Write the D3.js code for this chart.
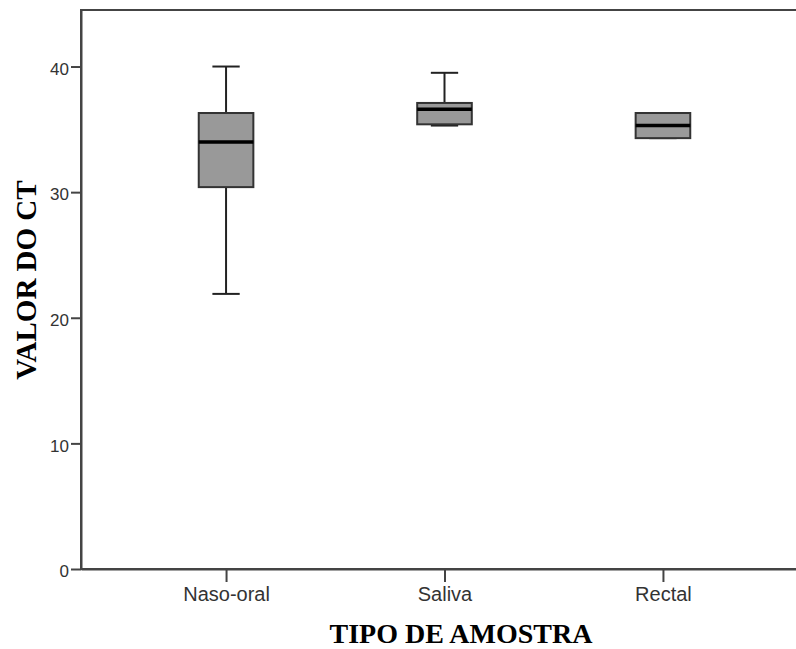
<!DOCTYPE html>
<html>
<head>
<meta charset="utf-8">
<script src="https://cdn.jsdelivr.net/npm/d3@7"></script>
<style>
    body { margin: 0; background: #fff; }
    .x-axis .tick text { font-family: "Liberation Sans", Arial, sans-serif; font-size: 20px; fill: #333; }
    .y-axis .tick text { font-family: "Liberation Sans", Arial, sans-serif; font-size: 17px; fill: #333; }
    .axis-title { font-family: "Liberation Serif", "Times New Roman", serif; font-weight: bold; fill: #000; }
</style>
</head>
<body>
<div id="chart"></div>
<script>
// Box plot values.
let categories = ["Naso-oral", "Saliva", "Rectal"];
let whiskerLow = [21.9, 35.3, 34.3];
let q1 = [30.4, 35.4, 34.3];
let median = [34.0, 36.6, 35.3];
let q3 = [36.3, 37.1, 36.3];
let whiskerHigh = [40.0, 39.5, 36.3];
let yTicks = [0, 10, 20, 30, 40];

let width = 796;
let height = 649;

// Plot area (it runs past the right edge of the picture, as in the original).
let plotLeft = 81, plotRight = 808, plotTop = 10, plotBottom = 569;

let svg = d3.select("#chart")
    .append("svg")
    .attr("width", width)
    .attr("height", height);

let x = d3.scalePoint()
    .domain(categories)
    .range([plotLeft, plotRight])
    .padding(0.664);

let y = d3.scaleLinear()
    .domain([0, 44.5])
    .range([plotBottom, plotTop]);

let boxes = categories.map((c, i) => ({
    name: c, lo: whiskerLow[i], q1: q1[i], med: median[i], q3: q3[i], hi: whiskerHigh[i]
}));

let boxW = x.step() * 0.25;
let capW = boxW * 0.5;

// Frame
svg.append("rect")
    .attr("x", plotLeft)
    .attr("y", plotTop)
    .attr("width", plotRight - plotLeft)
    .attr("height", plotBottom - plotTop)
    .attr("fill", "none")
    .attr("stroke", "#444")
    .attr("stroke-width", 2);

// Y axis
let yAxis = svg.append("g")
    .attr("class", "y-axis")
    .attr("transform", `translate(${plotLeft},0)`)
    .call(d3.axisLeft(y).tickValues(yTicks).tickSize(10).tickPadding(2).tickSizeOuter(0));
yAxis.select(".domain").attr("stroke", "#444").attr("stroke-width", 2);
yAxis.selectAll(".tick line").attr("stroke", "#444").attr("stroke-width", 2);
yAxis.selectAll(".tick text").attr("dy", "0.45em");

// X axis
let xAxis = svg.append("g")
    .attr("class", "x-axis")
    .attr("transform", `translate(0,${plotBottom})`)
    .call(d3.axisBottom(x).tickSize(13).tickPadding(5).tickSizeOuter(0));
xAxis.select(".domain").attr("stroke", "#444").attr("stroke-width", 2);
xAxis.selectAll(".tick line").attr("stroke", "#444").attr("stroke-width", 2);

let g = svg.selectAll(".box")
    .data(boxes)
    .enter()
    .append("g")
    .attr("class", "box");

// Whiskers
g.append("line")
    .attr("x1", d => x(d.name)).attr("x2", d => x(d.name))
    .attr("y1", d => y(d.hi)).attr("y2", d => y(d.q3))
    .attr("stroke", "#222").attr("stroke-width", 2);
g.append("line")
    .attr("x1", d => x(d.name)).attr("x2", d => x(d.name))
    .attr("y1", d => y(d.lo)).attr("y2", d => y(d.q1))
    .attr("stroke", "#222").attr("stroke-width", 2);

// Caps
g.append("line")
    .attr("x1", d => x(d.name) - capW / 2).attr("x2", d => x(d.name) + capW / 2)
    .attr("y1", d => y(d.hi)).attr("y2", d => y(d.hi))
    .attr("stroke", "#222").attr("stroke-width", 2);
g.append("line")
    .attr("x1", d => x(d.name) - capW / 2).attr("x2", d => x(d.name) + capW / 2)
    .attr("y1", d => y(d.lo)).attr("y2", d => y(d.lo))
    .attr("stroke", "#222").attr("stroke-width", 2);

// Boxes
g.append("rect")
    .attr("x", d => x(d.name) - boxW / 2)
    .attr("y", d => y(d.q3))
    .attr("width", boxW)
    .attr("height", d => y(d.q1) - y(d.q3))
    .attr("fill", "#999999")
    .attr("stroke", "#333")
    .attr("stroke-width", 2);

// Medians
g.append("line")
    .attr("x1", d => x(d.name) - boxW / 2).attr("x2", d => x(d.name) + boxW / 2)
    .attr("y1", d => y(d.med)).attr("y2", d => y(d.med))
    .attr("stroke", "#000").attr("stroke-width", 3.5);

// Axis titles
svg.append("text")
    .attr("class", "axis-title")
    .attr("x", 461)
    .attr("y", 643)
    .attr("text-anchor", "middle")
    .style("font-size", "28px")
    .text("TIPO DE AMOSTRA");

svg.append("text")
    .attr("class", "axis-title")
    .attr("transform", "translate(36,280) rotate(-90)")
    .attr("text-anchor", "middle")
    .style("font-size", "29px")
    .text("VALOR DO CT");
</script>
</body>
</html>
